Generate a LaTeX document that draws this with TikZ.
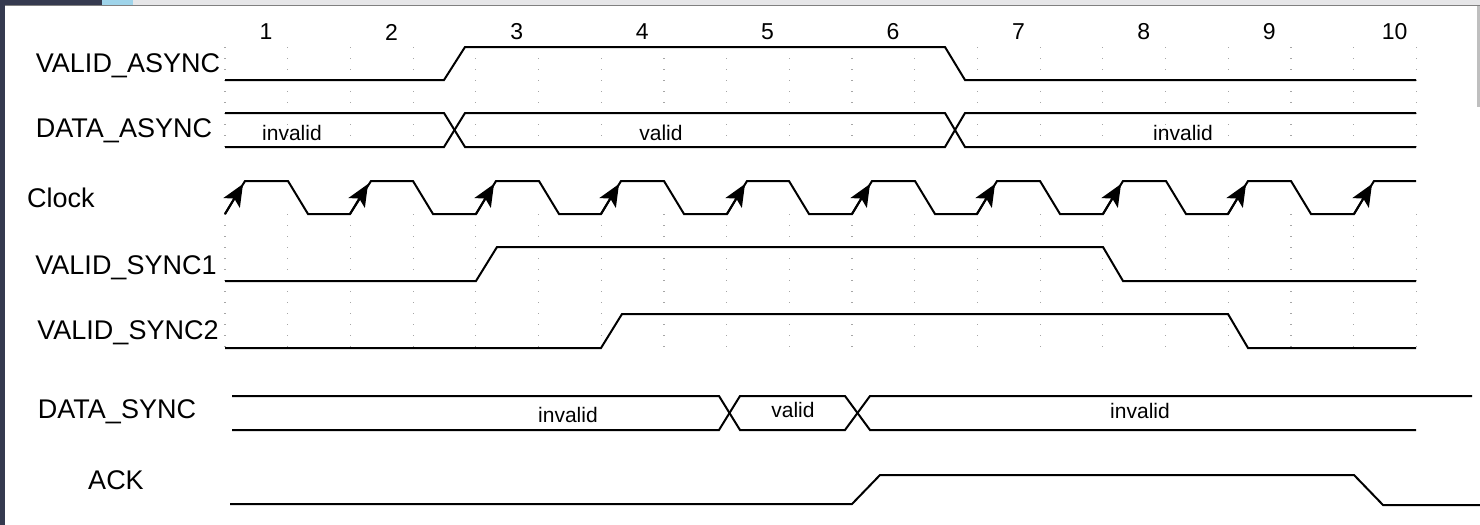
\documentclass[tikz,border=0pt]{standalone}
\usepackage{fontspec}
\setmainfont{Liberation Sans}
\usepackage{xcolor}
\usepackage{tikz}
\usetikzlibrary{arrows.meta}
\definecolor{winbar}{HTML}{353A4F}
\definecolor{tabblue}{HTML}{9FD4EA}
\definecolor{tabgray}{HTML}{E6E6E8}

\begin{document}
\begin{tikzpicture}
  [
    x=0.5pt, y=-0.5pt,
    sig/.style={draw=black, line width=1pt},
    grd/.style={draw=gray!70, line width=0.6pt, dash pattern=on 0.6pt off 4.9pt},
    clk/.style={sig, -{Stealth[length=11pt,width=9.5pt,inset=2.5pt]}},
    lbl/.style={font=\fontsize{13.5}{16}\selectfont, inner sep=0pt},
    num/.style={font=\fontsize{11.5}{14}\selectfont, inner sep=0pt},
    dat/.style={font=\fontsize{10.5}{12}\selectfont, inner sep=0pt}
  ]
  \useasboundingbox (0,0) rectangle (1480,525);

  % window frame
  \fill[winbar] (0,0) rectangle (5,525);
  \fill[winbar] (0,0) rectangle (102,5);
  \fill[tabblue] (102,0) rectangle (133,5);
  \fill[tabgray] (133,0) rectangle (1480,5);
  \draw[gray, line width=0.5pt] (5,5.5) -- (1480,5.5);
  \draw[gray!50, line width=1.5pt] (1478,6) -- (1478,107);

  % dotted grid
  \draw[grd] (225,47) -- (225,147) (225,214) -- (225,348);
  \draw[grd] (287.7,47) -- (287.7,147) (287.7,214) -- (287.7,348);
  \draw[grd] (350.4,47) -- (350.4,147) (350.4,214) -- (350.4,348);
  \draw[grd] (413.1,47) -- (413.1,147) (413.1,214) -- (413.1,348);
  \draw[grd] (475.8,47) -- (475.8,147) (475.8,214) -- (475.8,348);
  \draw[grd] (538.5,47) -- (538.5,147) (538.5,214) -- (538.5,348);
  \draw[grd] (601.2,47) -- (601.2,147) (601.2,214) -- (601.2,348);
  \draw[grd] (663.9,47) -- (663.9,147) (663.9,214) -- (663.9,348);
  \draw[grd] (726.6,47) -- (726.6,147) (726.6,214) -- (726.6,348);
  \draw[grd] (789.3,47) -- (789.3,147) (789.3,214) -- (789.3,348);
  \draw[grd] (852,47) -- (852,147) (852,214) -- (852,348);
  \draw[grd] (914.7,47) -- (914.7,147) (914.7,214) -- (914.7,348);
  \draw[grd] (977.4,47) -- (977.4,147) (977.4,214) -- (977.4,348);
  \draw[grd] (1040.1,47) -- (1040.1,147) (1040.1,214) -- (1040.1,348);
  \draw[grd] (1102.8,47) -- (1102.8,147) (1102.8,214) -- (1102.8,348);
  \draw[grd] (1165.5,47) -- (1165.5,147) (1165.5,214) -- (1165.5,348);
  \draw[grd] (1228.2,47) -- (1228.2,147) (1228.2,214) -- (1228.2,348);
  \draw[grd] (1290.9,47) -- (1290.9,147) (1290.9,214) -- (1290.9,348);
  \draw[grd] (1353.6,47) -- (1353.6,147) (1353.6,214) -- (1353.6,348);
  \draw[grd] (1416.3,47) -- (1416.3,147) (1416.3,214) -- (1416.3,348);

  % cycle numbers
  \node (n1)  at (266,32)    [num] {1};
  \node (n2)  at (391.4,32)  [num] {2};
  \node (n3)  at (516.8,32)  [num] {3};
  \node (n4)  at (642.2,32)  [num] {4};
  \node (n5)  at (767.6,32)  [num] {5};
  \node (n6)  at (893,32)    [num] {6};
  \node (n7)  at (1018.4,32) [num] {7};
  \node (n8)  at (1143.8,32) [num] {8};
  \node (n9)  at (1269.2,32) [num] {9};
  \node (n10) at (1394.6,32) [num] {10};

  % signal names
  \node (lVA)  at (128,66)  [lbl] {VALID\_ASYNC};
  \node (lDA)  at (124,131) [lbl] {DATA\_ASYNC};
  \node (lClk) at (61,198)  [lbl] {Clock};
  \node (lVS1) at (126,268) [lbl] {VALID\_SYNC1};
  \node (lVS2) at (128,333) [lbl] {VALID\_SYNC2};
  \node (lDS)  at (117,412) [lbl] {DATA\_SYNC};
  \node (lAck) at (116,480) [lbl] {ACK};

  % VALID_ASYNC
  \draw[sig] (225,80) -- (444,80) -- (465,47) -- (945,47) -- (965,80) -- (1416,80);

  % DATA_ASYNC
  \draw[sig] (225,113) -- (444,113) -- (465,147) -- (945,147) -- (965,113) -- (1416,113);
  \draw[sig] (225,147) -- (444,147) -- (465,113) -- (945,113) -- (965,147) -- (1416,147);
  \node (dA1) at (292,133)  [dat] {invalid};
  \node (dA2) at (661,133)  [dat] {valid};
  \node (dA3) at (1183,133) [dat] {invalid};

  % Clock
  \draw[sig] (225,214) -- (245,181) -- (288,181) -- (308,214) -- (350,214) -- (371,181)
    -- (413,181) -- (433,214) -- (476,214) -- (496,181) -- (539,181) -- (559,214)
    -- (601,214) -- (621,181) -- (664,181) -- (684,214) -- (727,214) -- (747,181)
    -- (789,181) -- (809,214) -- (852,214) -- (872,181) -- (915,181) -- (935,214)
    -- (977,214) -- (997,181) -- (1040,181) -- (1060,214) -- (1103,214) -- (1123,181)
    -- (1166,181) -- (1186,214) -- (1228,214) -- (1248,181) -- (1291,181) -- (1311,214)
    -- (1354,214) -- (1374,181) -- (1416,181);
  \draw[clk] (225,214) -- (243,184);
  \draw[clk] (350,214) -- (368,184);
  \draw[clk] (476,214) -- (494,184);
  \draw[clk] (601,214) -- (619,184);
  \draw[clk] (727,214) -- (745,184);
  \draw[clk] (852,214) -- (870,184);
  \draw[clk] (977,214) -- (995,184);
  \draw[clk] (1103,214) -- (1121,184);
  \draw[clk] (1228,214) -- (1246,184);
  \draw[clk] (1354,214) -- (1372,184);

  % VALID_SYNC1 / VALID_SYNC2
  \draw[sig] (225,281) -- (476,281) -- (497,247) -- (1103,247) -- (1123,281) -- (1416,281);
  \draw[sig] (225,348) -- (601,348) -- (622,314) -- (1228,314) -- (1248,348) -- (1416,348);

  % DATA_SYNC
  \draw[sig] (232,396) -- (719,396) -- (740,430) -- (845,430) -- (870,396) -- (1472,396);
  \draw[sig] (232,430) -- (719,430) -- (740,396) -- (845,396) -- (870,430) -- (1416,430);
  \node (dS1) at (568,415)  [dat] {invalid};
  \node (dS2) at (793,410)  [dat] {valid};
  \node (dS3) at (1140,411) [dat] {invalid};

  % ACK
  \draw[sig] (230,504) -- (852,504) -- (880,475) -- (1354,475) -- (1383,505) -- (1480,505);
\end{tikzpicture}
\end{document}
